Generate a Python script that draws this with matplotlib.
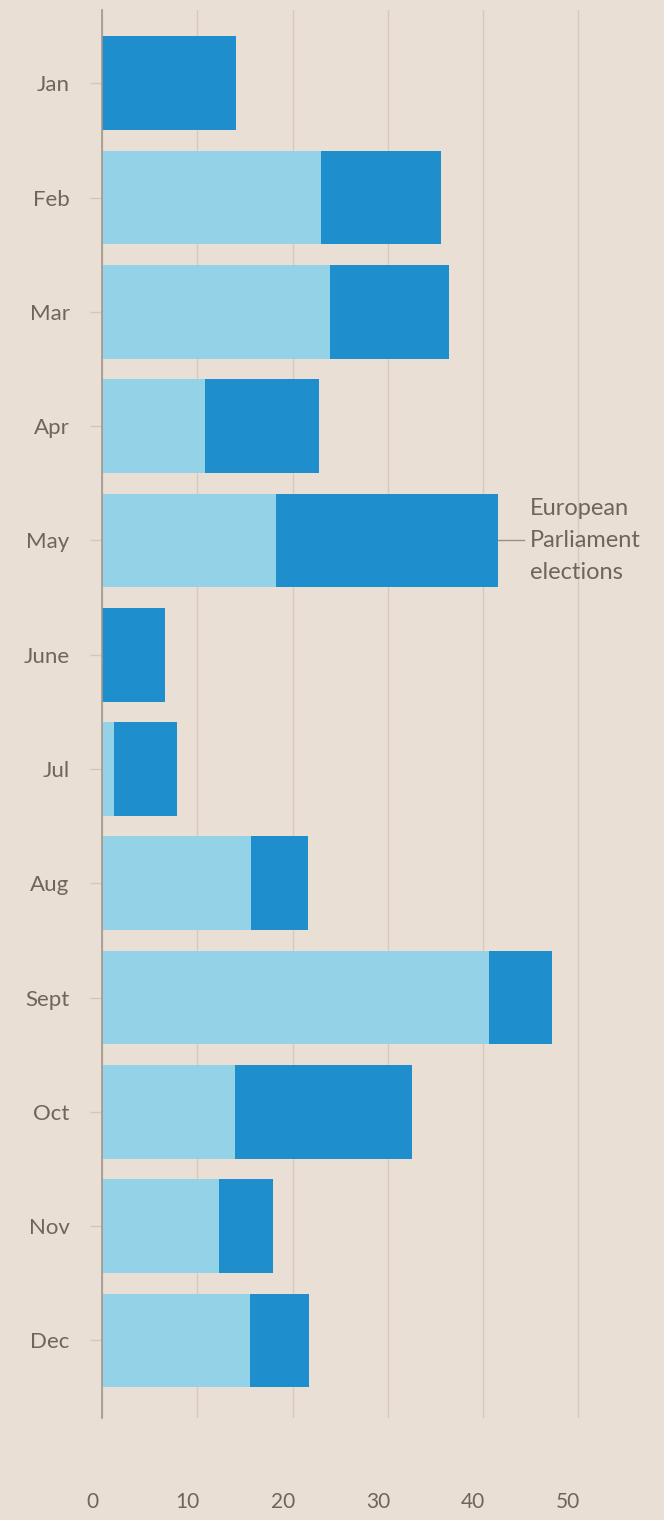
import matplotlib.pyplot as plt
import matplotlib.transforms as mtransforms
import numpy as np

months = ['Jan', 'Feb', 'Mar', 'Apr', 'May', 'June', 'Jul', 'Aug', 'Sept', 'Oct', 'Nov', 'Dec']
light = [0, 23.0, 23.9, 10.8, 18.2, 0, 1.2, 15.6, 40.6, 13.9, 12.3, 15.5]
dark = [14.0, 12.6, 12.5, 12.0, 23.4, 6.6, 6.6, 6.0, 6.6, 18.6, 5.6, 6.2]
xticks = [0, 10, 20, 30, 40, 50]

bg = '#eadfd5'
light_col = '#93d2e7'
dark_col = '#1f8ecd'
text_col = '#6e655e'

plt.rcParams['font.family'] = ['Lato', 'DejaVu Sans']

fig = plt.figure(figsize=(6.64, 15.2), dpi=100, facecolor=bg)
ax = fig.add_axes([0.154, 0.067, 0.846, 0.9263])
ax.set_facecolor(bg)

y = np.arange(len(months))
ax.barh(y, light, height=0.82, color=light_col, zorder=2)
ax.barh(y, dark, left=light, height=0.82, color=dark_col, zorder=2)

ax.set_xlim(0, 59)
ax.set_ylim(11.68, -0.64)
ax.set_xticks(xticks)
ax.set_xticklabels([str(t) for t in xticks], fontsize=15, color=text_col)
ax.set_yticks(y)
ax.set_yticklabels(months, fontsize=16, color=text_col)
ax.tick_params(axis='y', length=8.5, width=1, color='#d3c6bb', pad=15)
ax.tick_params(axis='x', length=0, pad=53)
# x labels sit slightly left of their gridlines
shift = mtransforms.ScaledTranslation(-10 / 100, 0, fig.dpi_scale_trans)
for lab in ax.get_xticklabels():
    lab.set_transform(lab.get_transform() + shift)
ax.grid(axis='x', color='#d6c9be', lw=1, zorder=0)
for s in ['top', 'right', 'bottom']:
    ax.spines[s].set_visible(False)
ax.spines['left'].set_color('#a3978c')
ax.spines['left'].set_linewidth(1.2)
ax.spines['left'].set_zorder(3)

# annotation for May
may_total = light[4] + dark[4]
ax.plot([may_total, may_total + 2.7], [4, 4], color='#9a8f86', lw=1, zorder=3, clip_on=False)
ax.text(may_total + 3.3, 4, 'European\nParliament\nelections', fontsize=17,
        color=text_col, va='center', ha='left', linespacing=1.65)

plt.savefig('out.png', dpi=100, facecolor=bg)
